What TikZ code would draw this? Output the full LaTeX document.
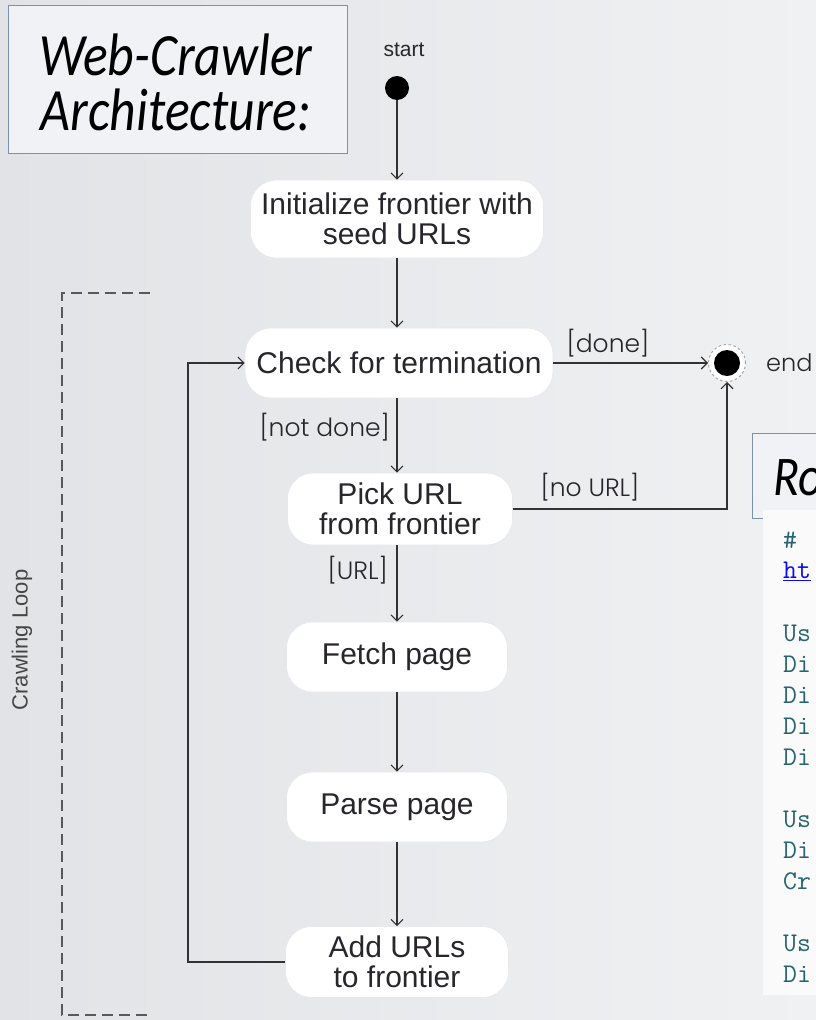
\documentclass[tikz,border=0pt]{standalone}
\usepackage{fontspec}
\setmainfont{Liberation Sans}
\newfontfamily\titlefont[FakeStretch=0.86]{Carlito}
\newfontfamily\lblfont{Poppins}[UprightFont=* Light]
\usetikzlibrary{arrows.meta}
\definecolor{bgA}{RGB}{226,227,230}
\definecolor{bgB}{RGB}{240,241,243}
\definecolor{txt}{RGB}{40,38,44}
\definecolor{linec}{RGB}{50,50,50}
\definecolor{boxedge}{RGB}{125,145,172}
\definecolor{boxfill}{RGB}{240,242,246}
\definecolor{codec}{RGB}{40,100,112}
\definecolor{linkc}{RGB}{10,10,235}
\begin{document}
\begin{tikzpicture}[x=1pt,y=-1pt,
  statebox/.style={rounded corners=26pt, fill=white, draw=gray!18, line width=0.6pt,
    text=txt, font=\fontsize{30}{30}\selectfont, align=center, inner sep=0pt},
  lbl/.style={font=\lblfont\fontsize{25}{25}\selectfont, text=txt, inner sep=0pt},
  conn/.style={draw=linec, line width=1.1pt,
    -{Straight Barb[length=6pt,width=12pt,line width=1.1pt]}},
  codeline/.style={font=\ttfamily\fontsize{27}{27}\selectfont, text=codec, inner sep=0pt, anchor=west},
  titlebox/.style={fill=boxfill, draw=boxedge, line width=1pt}]
\useasboundingbox (0,0) rectangle (816,1020);
% background
\shade[left color=bgA, right color=bgB] (0,0) rectangle (816,1020);
% title box
\draw[titlebox] (8,5) rectangle (347,153);
\node[font=\titlefont\itshape\fontsize{60}{55}\selectfont, align=center, text=black] (title) at (176,82) {Web-Crawler\\Architecture:};
% right title box and code panel
\draw[titlebox] (752,433) rectangle (830,518);
\node[font=\titlefont\itshape\fontsize{56}{56}\selectfont, anchor=base west, text=black, inner sep=0pt] (rtitle) at (773,495) {Ro};
\fill[white!96!gray] (763,510) rectangle (816,995);
\node[codeline] (c1) at (783,540) {\#};
\node[codeline, text=linkc] (c2) at (783,571) {\underline{ht}};
\node[codeline] (c3) at (783,633) {Us};
\node[codeline] (c4) at (783,664) {Di};
\node[codeline] (c5) at (783,695) {Di};
\node[codeline] (c6) at (783,726) {Di};
\node[codeline] (c7) at (783,757) {Di};
\node[codeline] (c8) at (783,819) {Us};
\node[codeline] (c9) at (783,850) {Di};
\node[codeline] (c10) at (783,881) {Cr};
\node[codeline] (c11) at (783,943) {Us};
\node[codeline] (c12) at (783,974) {Di};
% crawling loop bracket
\draw[gray!70!black, line width=1.3pt, dash pattern=on 11pt off 6pt] (150,293) -- (62,293) -- (62,1015) -- (150,1015);
\node[rotate=90, font=\fontsize{22}{22}\selectfont, text=gray!55!black] (loopl) at (22,640) {Crawling Loop};
% start
\node[font=\fontsize{21}{21}\selectfont, text=txt] (startl) at (404,50) {start};
\node[circle, fill=black, minimum size=24pt, inner sep=0pt] (start) at (397,88) {};
% states
\node[statebox, minimum width=293pt, minimum height=78pt] (init) at (397,219) {Initialize frontier with\\seed URLs};
\node[statebox, minimum width=308pt, minimum height=70pt] (check) at (399,363) {Check for termination};
\node[statebox, minimum width=225pt, minimum height=72pt] (pick) at (400,509) {Pick URL\\from frontier};
\node[statebox, minimum width=221pt, minimum height=70pt] (fetch) at (397,657) {Fetch page};
\node[statebox, minimum width=221pt, minimum height=70pt] (parse) at (397,807) {Parse page};
\node[statebox, minimum width=223pt, minimum height=71pt] (add) at (397,962) {Add URLs\\to frontier};
% end
\node[circle, fill=white, draw=gray!70, dash pattern=on 2.5pt off 2.5pt, line width=1pt, minimum size=37pt, inner sep=0pt] (endr) at (727,363) {};
\node[circle, fill=black, minimum size=26pt, inner sep=0pt] (endd) at (endr.center) {};
\node[lbl, anchor=west, font=\lblfont\fontsize{24}{24}\selectfont] (endl) at (766,363) {end};
% connectors
\coordinate (vx) at (397,0);
\coordinate (loopx) at (188,0);
\draw[conn] (start.south) -- (start.south |- init.north);
\draw[conn] (init.south -| vx) -- (check.north -| vx);
\draw[conn] (check.south -| vx) -- (pick.north -| vx);
\draw[conn] (pick.south -| vx) -- (fetch.north -| vx);
\draw[conn] (fetch.south -| vx) -- (parse.north -| vx);
\draw[conn] (parse.south -| vx) -- (add.north -| vx);
\draw[conn] (check.east) -- (endr.west);
\draw[conn] (pick.east) -| (endr.south);
\draw[conn] (add.west) -- (add.west -| loopx) |- (check.west);
% guard labels
\node[lbl] (done) at (608,343) {[done]};
\node[lbl, anchor=east] (notdone) at (390,427) {[not done]};
\node[lbl] (nourl) at (590,487) {[no URL]};
\node[lbl, anchor=east] (url) at (388,570) {[URL]};
\end{tikzpicture}
\end{document}
